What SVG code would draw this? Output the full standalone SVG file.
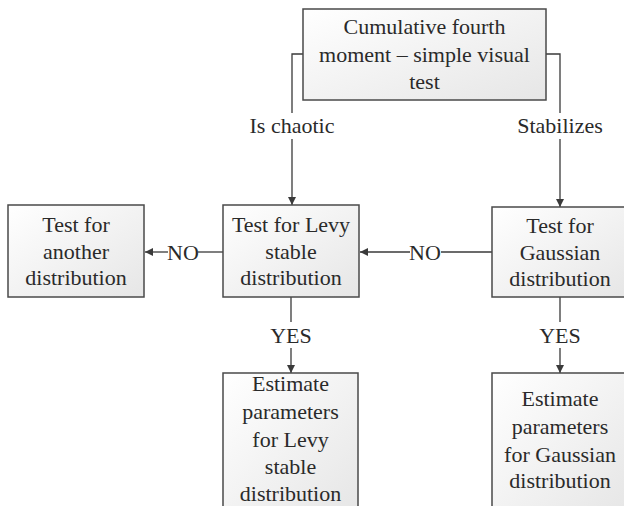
<svg xmlns="http://www.w3.org/2000/svg" width="624" height="506" viewBox="0 0 624 506">
<defs>
<linearGradient id="g" x1="0" y1="0" x2="1" y2="1">
<stop offset="0" stop-color="#ffffff"/>
<stop offset="1" stop-color="#e6e6e6"/>
</linearGradient>
<marker id="ah" viewBox="0 0 10 10" refX="10" refY="5" markerWidth="8" markerHeight="8" markerUnits="userSpaceOnUse" orient="auto">
<path d="M0,0 L10,5 L0,10 Z" fill="#3a3a3a"/>
</marker>
<style>
.box{fill:url(#g);stroke:#4a4a4a;stroke-width:1.5}
.c{fill:none;stroke:#3a3a3a;stroke-width:1.3}
.ca{fill:none;stroke:#3a3a3a;stroke-width:1.3;marker-end:url(#ah)}
</style>
</defs>
<rect width="624" height="506" fill="#ffffff"/>

<g id="connectors">
<polyline class="c" points="303,54 292,54 292,113"/>
<line class="ca" x1="292" y1="139" x2="292" y2="205"/>
<polyline class="c" points="546,54 560,54 560,113"/>
<line class="ca" x1="560" y1="139" x2="560" y2="207"/>
<line class="c" x1="223" y1="252" x2="198" y2="252"/>
<line class="ca" x1="168" y1="252" x2="145" y2="252"/>
<line class="c" x1="492" y1="252" x2="441" y2="252"/>
<line class="ca" x1="410" y1="252" x2="360" y2="252"/>
<line class="c" x1="291" y1="297" x2="291" y2="322"/>
<line class="ca" x1="291" y1="348" x2="291" y2="373"/>
<line class="c" x1="560" y1="297" x2="560" y2="322"/>
<line class="ca" x1="560" y1="348" x2="560" y2="373"/>
<g font-family="'Liberation Serif'" font-size="22" fill="#2a2a2a" text-anchor="middle">
<text x="292" y="133">Is chaotic</text>
<text x="560" y="133">Stabilizes</text>
<text x="183" y="260">NO</text>
<text x="425" y="260">NO</text>
<text x="291" y="343">YES</text>
<text x="560" y="343">YES</text>
</g>
</g>

<g id="n_cumulative">
<rect class="box" x="303" y="9" width="243" height="91"/>
<g font-family="'Liberation Serif'" font-size="22" fill="#2a2a2a" text-anchor="middle">
<text x="424.5" y="34">Cumulative fourth</text>
<text x="424.5" y="62">moment – simple visual</text>
<text x="424.5" y="89">test</text>
</g>
</g>

<g id="n_another">
<rect class="box" x="8" y="205" width="136" height="92"/>
<g font-family="'Liberation Serif'" font-size="22" fill="#2a2a2a" text-anchor="middle">
<text x="76" y="232">Test for</text>
<text x="76" y="259">another</text>
<text x="76" y="285">distribution</text>
</g>
</g>

<g id="n_levy">
<rect class="box" x="223" y="205" width="136" height="92"/>
<g font-family="'Liberation Serif'" font-size="22" fill="#2a2a2a" text-anchor="middle">
<text x="291" y="232">Test for Levy</text>
<text x="291" y="259">stable</text>
<text x="291" y="285">distribution</text>
</g>
</g>

<g id="n_gauss">
<rect class="box" x="492" y="207" width="136" height="90"/>
<g font-family="'Liberation Serif'" font-size="22" fill="#2a2a2a" text-anchor="middle">
<text x="560" y="233">Test for</text>
<text x="560" y="260">Gaussian</text>
<text x="560" y="286">distribution</text>
</g>
</g>

<g id="n_est_levy">
<rect class="box" x="223" y="373" width="135" height="140"/>
<g font-family="'Liberation Serif'" font-size="22" fill="#2a2a2a" text-anchor="middle">
<text x="290.5" y="391">Estimate</text>
<text x="290.5" y="419">parameters</text>
<text x="290.5" y="447">for Levy</text>
<text x="290.5" y="474">stable</text>
<text x="290.5" y="501">distribution</text>
</g>
</g>

<g id="n_est_gauss">
<rect class="box" x="492" y="373" width="136" height="140"/>
<g font-family="'Liberation Serif'" font-size="22" fill="#2a2a2a" text-anchor="middle">
<text x="560" y="406">Estimate</text>
<text x="560" y="434">parameters</text>
<text x="560" y="462">for Gaussian</text>
<text x="560" y="488">distribution</text>
</g>
</g>
</svg>
